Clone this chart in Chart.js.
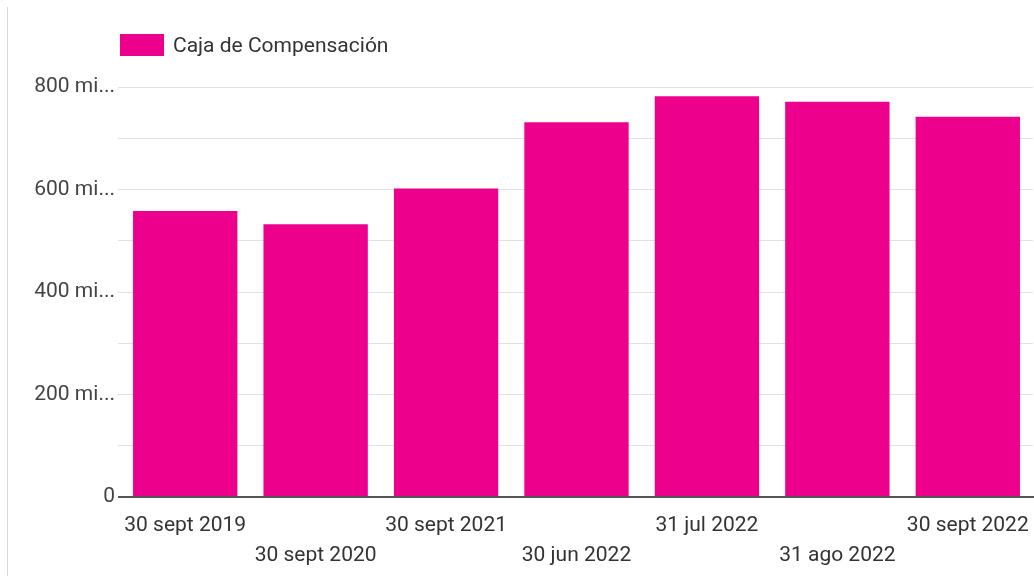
<!DOCTYPE html>
<html>
<head>
<meta charset="utf-8">
<script src="https://cdn.jsdelivr.net/npm/chart.js@4.4.1/dist/chart.umd.min.js"></script>
<style>
  html, body { margin: 0; padding: 0; background: #fff; }
  #wrap { position: relative; width: 1034px; height: 576px; overflow: hidden; }
  #leftline { position: absolute; left: 7px; top: 7px; width: 1px; bottom: 0; background: #d9d9d9; }
  #legend { position: absolute; left: 120px; top: 33px; display: flex; align-items: center;
            font-family: Roboto, "Noto Sans", sans-serif; font-size: 21px; color: #333; }
  #legend .box { width: 44px; height: 22px; margin-right: 9px; }
  canvas { position: absolute; left: 0; top: 0; }
</style>
</head>
<body>
<div id="wrap">
  <div id="leftline"></div>
  <canvas id="c" width="1034" height="576"></canvas>
  <div id="legend"><div class="box"></div><span class="txt"></span></div>
</div>
<script>
const categories = [
  '30 sept 2019', '30 sept 2020', '30 sept 2021', '30 jun 2022',
  '31 jul 2022', '31 ago 2022', '30 sept 2022'
];
const seriesName = 'Caja de Compensación';
const seriesValues = [558, 532, 602, 731, 782, 771, 742];
const yTickLabels = ['0', '200 mi...', '400 mi...', '600 mi...', '800 mi...'];
const barColor = '#ec008c';

// staggered two-row x labels
const xLabels = categories.map((c, i) => i % 2 === 0 ? [c, ''] : ['', c]);

document.querySelector('#legend .box').style.background = barColor;
document.querySelector('#legend .txt').textContent = seriesName;

const FONT = 'Roboto, "Noto Sans", sans-serif';

new Chart(document.getElementById('c'), {
  type: 'bar',
  data: {
    labels: xLabels,
    datasets: [{
      label: seriesName,
      data: seriesValues,
      backgroundColor: barColor,
      borderWidth: 0,
      barPercentage: 0.8,
      categoryPercentage: 1.0
    }]
  },
  options: {
    responsive: false,
    devicePixelRatio: 1,
    animation: false,
    layout: { padding: { top: 87, right: 1, bottom: 0, left: 0 } },
    plugins: {
      legend: { display: false },
      tooltip: { enabled: false }
    },
    scales: {
      x: {
        z: 1,
        grid: { display: false },
        border: { display: true, color: '#555', width: 2 },
        ticks: {
          color: '#333',
          font: { family: FONT, size: 21, lineHeight: 1.43 },
          padding: 6,
          maxRotation: 0,
          autoSkip: false
        },
        afterFit: s => { s.height = 79; s.paddingLeft = 0; s.paddingRight = 0; }
      },
      y: {
        min: 0,
        max: 800,
        border: { display: false },
        grid: {
          color: ctx => ctx.tick && ctx.tick.value === 0 ? '#555' : '#e0e0e0',
          lineWidth: ctx => ctx.tick && ctx.tick.value === 0 ? 2 : 1,
          drawTicks: true,
          tickLength: 2
        },
        ticks: {
          stepSize: 100,
          color: '#444',
          padding: 3,
          font: { family: FONT, size: 21 },
          callback: v => (v % 200 === 0 ? yTickLabels[v / 200] : '')
        },
        afterFit: s => { s.width = 120; }
      }
    }
  }
});
</script>
</body>
</html>
